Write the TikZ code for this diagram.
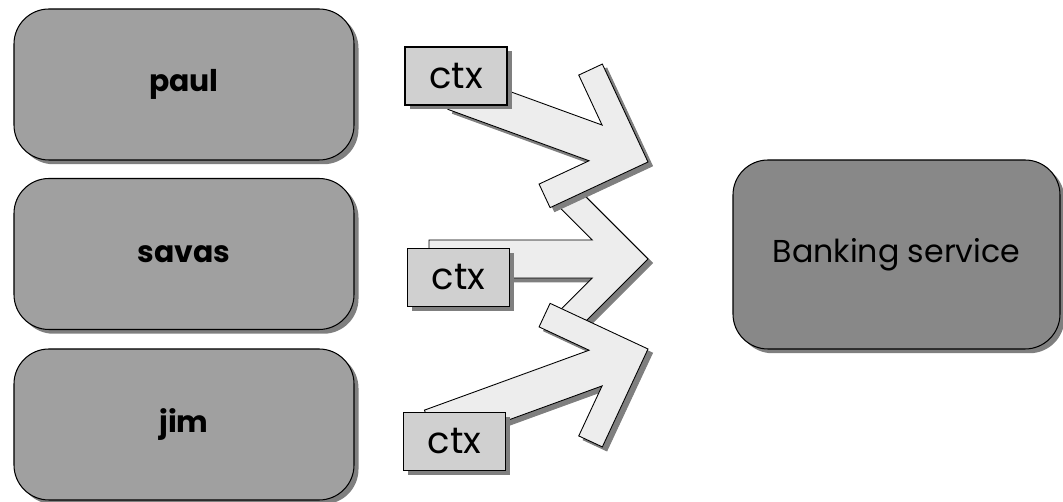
\documentclass[tikz,border=0pt]{standalone}
\usepackage{fontspec}
\setmainfont{Poppins}
\usepackage{tikz}
\usetikzlibrary{shadows}
\definecolor{clientgray}{HTML}{A0A0A0}
\definecolor{bankgray}{HTML}{888888}
\definecolor{ctxgray}{HTML}{D0D0D0}
\definecolor{arrowgray}{HTML}{EDEDED}
\definecolor{shadowgray}{HTML}{7F7F7F}
\tikzset{
box shadow/.style = { drop shadow = {shadow xshift = 0.9mm, shadow yshift = -0.85mm, fill = shadowgray, opacity = 1} },
client/.style = { rectangle, draw = black, fill = clientgray, line width = 0.6pt, minimum width = 68mm, minimum height = 30.2mm, rounded corners = 7mm, font = \fontsize{17}{20}\selectfont\bfseries, box shadow },
service/.style = { rectangle, draw = black, fill = bankgray, line width = 0.6pt, minimum width = 65.4mm, minimum height = 37.8mm, rounded corners = 7mm, font = \fontsize{18}{22}\selectfont, box shadow },
ctx/.style = { rectangle, draw = black, fill = ctxgray, line width = 1pt, minimum width = 20.4mm, minimum height = 11.6mm, inner sep = 0pt, font = \fontsize{21}{25}\selectfont, box shadow },
}
\tikzset{
pics/ctx arrow/.style args={#1, #2, #3}{
        code = {
        % shaft from the tail, then a square chevron for the head, tip at (0,0)
        \path[draw = #3, fill = #2, line width = 0.5pt] (-#1, -19) -- (-55.8, -19) -- (-94.8, -58) -- (-76.4, -76.4) -- (0, 0) -- (-76.4, 76.4) -- (-94.8, 58) -- (-55.8, 19) -- (-#1, 19) -- cycle;
        }
    }
}

\begin{document}
\begin{tikzpicture}[x = 0.2mm, y = -0.2mm]
    \useasboundingbox (0, 0) rectangle (1063, 502);
    \node[client] (paul) at (184, 84.5) {paul};
    \node[client] (savas) at (184, 254) {savas};
    \node[client] (jim) at (184, 424.5) {jim};
    \node[service] (bank) at (896.5, 254.5) {Banking service};
    % arrows, each one with its shadow first
    \draw (652.5, 263) pic{ctx arrow = {219, shadowgray, shadowgray}};
    \draw (648, 259) pic{ctx arrow = {219, arrowgray, black}};
    \draw (652.5, 166) pic[rotate = -20]{ctx arrow = {206, shadowgray, shadowgray}};
    \draw (648, 162) pic[rotate = -20]{ctx arrow = {206, arrowgray, black}};
    \draw (652.5, 353) pic[rotate = 20]{ctx arrow = {231, shadowgray, shadowgray}};
    \draw (648, 349) pic[rotate = 20]{ctx arrow = {231, arrowgray, black}};
    \node[ctx] (ctx1) at (456, 76) {ctx};
    \node[ctx] (ctx2) at (458.5, 277.5) {ctx};
    \node[ctx] (ctx3) at (454.5, 441.5) {ctx};
  \end{tikzpicture}
\end{document}
